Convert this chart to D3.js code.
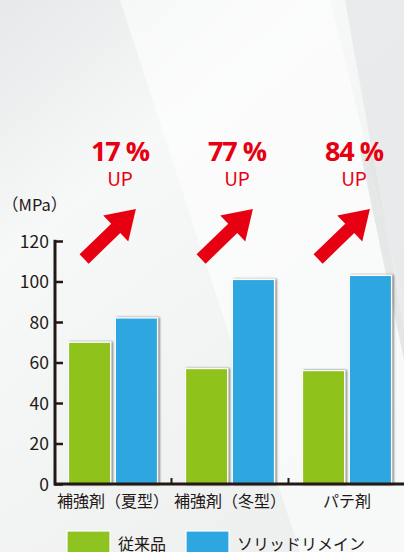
<!DOCTYPE html>
<html>
<head>
<meta charset="utf-8">
<script src="https://cdn.jsdelivr.net/npm/d3@7"></script>
<style>
  body { margin: 0; padding: 0; overflow: hidden; }
  svg { display: block; }
</style>
</head>
<body>
<script>
// Data
var categories = ["補強剤（夏型）", "補強剤（冬型）", "パテ剤"]
var seriesNames = ["従来品", "ソリッドリメイン"]
var conventional = [70, 57, 56]
var solidRemain = [82, 101, 103]
var upLabels = ["17 %", "77 %", "84 %"]
var yTicks = [0, 20, 40, 60, 80, 100, 120]

var W = 404, H = 552
var colors = ["#8fc31f", "#2ea7e0"]
var ink = "#231815"
var jp = "'Noto Sans CJK JP', 'Noto Sans', sans-serif"

var svg = d3.select("body").append("svg")
  .attr("width", W)
  .attr("height", H)

// Background: pale grey with white streaks
var defs = svg.append("defs")
var bg = defs.append("linearGradient").attr("id", "bg")
  .attr("x1", 0).attr("y1", 0).attr("x2", 0.6).attr("y2", 1)
bg.append("stop").attr("offset", "0%").attr("stop-color", "#e6e8e9")
bg.append("stop").attr("offset", "35%").attr("stop-color", "#f7f8f8")
bg.append("stop").attr("offset", "100%").attr("stop-color", "#eef0f0")

var shade = defs.append("filter").attr("id", "shadow")
  .attr("x", "-20%").attr("y", "-5%").attr("width", "140%").attr("height", "110%")
shade.append("feDropShadow").attr("dx", 1.5).attr("dy", 0).attr("stdDeviation", 0.8)
  .attr("flood-color", "#000").attr("flood-opacity", 0.55)

svg.append("rect").attr("width", W).attr("height", H).attr("fill", "url(#bg)")
svg.append("path").attr("d", "M120,0 L330,0 L404,300 L404,552 L300,552 Z").attr("fill", "#fff").attr("opacity", 0.55)
svg.append("path").attr("d", "M345,0 L404,0 L404,330 Z").attr("fill", "#e4e6e7").attr("opacity", 0.7)
svg.append("path").attr("d", "M360,150 L372,150 L404,330 L404,360 Z").attr("fill", "#d8dadb").attr("opacity", 0.6)

// Scales
var x0 = d3.scaleBand().domain(categories).range([54.5, 405.5]).padding(0)
var x1 = d3.scaleBand().domain(seriesNames).range([14, 103]).paddingInner(0.1)
var y = d3.scaleLinear().domain([0, 120]).range([484, 241])

var chart = svg.append("g")

// Bars
var groups = chart.selectAll(".grp")
  .data(categories)
  .enter().append("g")
  .attr("class", "grp")
  .attr("transform", function (d) { return "translate(" + x0(d) + ",0)" })

groups.selectAll("rect")
  .data(function (d, i) {
    return [
      { key: seriesNames[0], v: conventional[i], c: colors[0] },
      { key: seriesNames[1], v: solidRemain[i], c: colors[1] }
    ]
  })
  .enter().append("rect")
  .attr("x", function (d) { return x1(d.key) })
  .attr("y", function (d) { return y(d.v) })
  .attr("width", x1.bandwidth())
  .attr("height", function (d) { return y(0) - y(d.v) })
  .attr("fill", function (d) { return d.c })
  .attr("stroke", "#fff")
  .attr("stroke-width", 1.2)
  .attr("filter", "url(#shadow)")

// Y axis
var yAxis = d3.axisRight(y).tickValues(yTicks).tickSize(8).tickFormat("")
var ya = chart.append("g").attr("transform", "translate(55,0)").call(yAxis)
ya.select(".domain").remove()
ya.selectAll("line").attr("stroke", ink).attr("stroke-width", 2.5)
chart.append("line").attr("x1", 55).attr("x2", 55).attr("y1", y(120) - 1.2).attr("y2", y(0) + 1.5)
  .attr("stroke", ink).attr("stroke-width", 3)

chart.selectAll(".ylab")
  .data(yTicks)
  .enter().append("text")
  .attr("class", "ylab")
  .attr("x", 49)
  .attr("y", function (d) { return y(d) + 6.5 })
  .attr("text-anchor", "end")
  .attr("font-family", jp)
  .attr("font-size", 17.5)
  .attr("fill", ink)
  .text(function (d) { return d })

svg.append("text")
  .attr("x", 2).attr("y", 211)
  .attr("font-family", jp).attr("font-size", 16.5).attr("fill", ink)
  .text("（MPa）")

// X axis
chart.append("line").attr("x1", 54).attr("x2", W).attr("y1", y(0)).attr("y2", y(0))
  .attr("stroke", ink).attr("stroke-width", 3)
chart.selectAll(".xtick")
  .data(categories.slice(1))
  .enter().append("line")
  .attr("x1", function (d) { return x0(d) }).attr("x2", function (d) { return x0(d) })
  .attr("y1", y(0)).attr("y2", y(0) - 6)
  .attr("stroke", ink).attr("stroke-width", 2)

chart.selectAll(".xlab")
  .data(categories)
  .enter().append("text")
  .attr("x", function (d) { return x0(d) + x0.bandwidth() / 2 })
  .attr("y", 507)
  .attr("text-anchor", "middle")
  .attr("font-family", jp)
  .attr("font-size", 16)
  .attr("fill", ink)
  .text(function (d) { return d })

// Up annotations
var ann = svg.selectAll(".ann")
  .data(categories)
  .enter().append("g")
  .attr("class", "ann")
  .attr("transform", function (d) { return "translate(" + (x0(d) + x0.bandwidth() / 2) + ",0)" })

ann.append("text")
  .attr("x", 7).attr("y", 161)
  .attr("text-anchor", "middle")
  .attr("font-family", "'Open Sans', 'Noto Sans', sans-serif")
  .attr("font-weight", "bold")
  .attr("font-size", 27)
  .attr("letter-spacing", -1)
  .attr("fill", "#e60012")
  .text(function (d, i) { return upLabels[i] })

ann.append("text")
  .attr("x", 7).attr("y", 186)
  .attr("text-anchor", "middle")
  .attr("font-family", jp)
  .attr("font-size", 19)
  .attr("fill", "#e60012")
  .text("UP")

// Arrow pointing up-right
ann.append("path")
  .attr("transform", "translate(-3,234) rotate(-44)")
  .attr("d", "M-36,-6.5 L8,-6.5 L8,-18 L36,0 L8,18 L8,6.5 L-36,6.5 Z")
  .attr("fill", "#e60012")

// Legend
var leg = svg.selectAll(".leg")
  .data(seriesNames)
  .enter().append("g")
  .attr("class", "leg")
  .attr("transform", function (d, i) { return "translate(" + (67 + i * 119) + ",531)" })

leg.append("rect").attr("width", 43).attr("height", 24)
  .attr("fill", function (d, i) { return colors[i] })
  .attr("stroke", "#fff").attr("stroke-width", 1.2)
leg.append("text")
  .attr("x", 51).attr("y", 19)
  .attr("font-family", jp).attr("font-size", 16).attr("fill", ink)
  .text(function (d) { return d })
</script>
</body>
</html>
